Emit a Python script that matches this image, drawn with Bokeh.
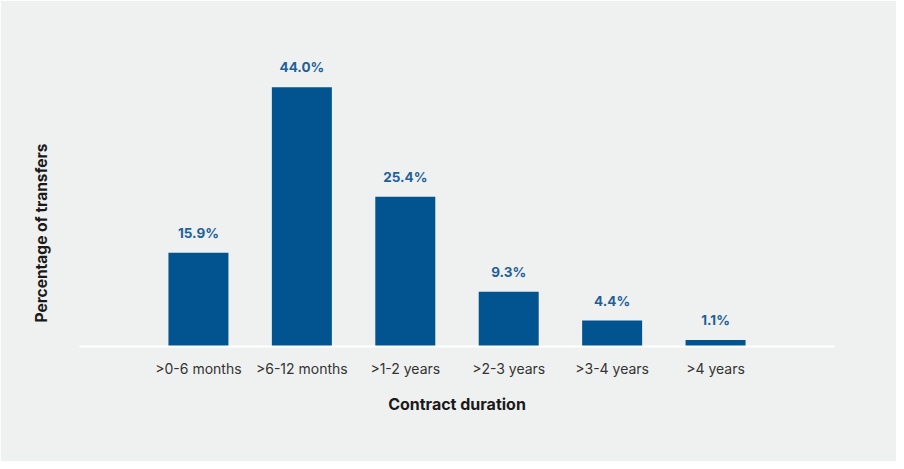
from bokeh.plotting import figure
from bokeh.models import FactorRange, Range1d, Title, ColumnDataSource
from bokeh.core.properties import value
from bokeh.embed import file_html
from bokeh.resources import INLINE

categories = [">0-6 months", ">6-12 months", ">1-2 years", ">2-3 years", ">3-4 years", ">4 years"]
shares = [15.9, 44.0, 25.4, 9.3, 4.4, 1.1]
share_labels = ["15.9%", "44.0%", "25.4%", "9.3%", "4.4%", "1.1%"]

BG = "#eff1f0"
BAR = "#01548f"
LBL = "#1f5f9a"
FONT = "Inter"

src = ColumnDataSource(dict(cat=categories, v=shares, lab=share_labels))

xr = FactorRange(factors=categories, range_padding=0.65, range_padding_units="absolute")
p = figure(x_range=xr, y_range=Range1d(0, 53.3), width=896, height=461,
           output_backend="svg", toolbar_location=None,
           min_border_left=78, min_border_right=62, min_border_top=32, min_border_bottom=115)
p.background_fill_color = BG
p.border_fill_color = BG
p.outline_line_color = BG
p.outline_line_width = 2
p.grid.visible = False

p.vbar(x="cat", top="v", width=0.58, source=src, color=BAR, line_color=None)
p.text(x="cat", y="v", text="lab", source=src, y_offset=-12,
       text_align="center", text_baseline="bottom",
       text_font=value(FONT), text_font_style="bold", text_font_size="13.5px", text_color=LBL)

p.yaxis.visible = False
ax = p.xaxis[0]
ax.axis_line_color = "white"
ax.axis_line_width = 2
ax.major_tick_line_color = None
ax.minor_tick_line_color = None
ax.major_label_standoff = 7
ax.major_label_text_font = FONT
ax.major_label_text_font_size = "14px"
ax.major_label_text_color = "#333333"
ax.axis_label = "Contract duration"
ax.axis_label_text_font = FONT
ax.axis_label_text_font_size = "16px"
ax.axis_label_text_font_style = "bold"
ax.axis_label_text_color = "#1a1a1a"
ax.axis_label_standoff = 14

ytitle = Title(text="Percentage of transfers", align="left", offset=24, standoff=58,
               text_font=FONT, text_font_size="15.5px", text_font_style="bold", text_color="#1a1a1a")
p.add_layout(ytitle, "left")

open("out.html", "w").write(file_html(p, INLINE))
